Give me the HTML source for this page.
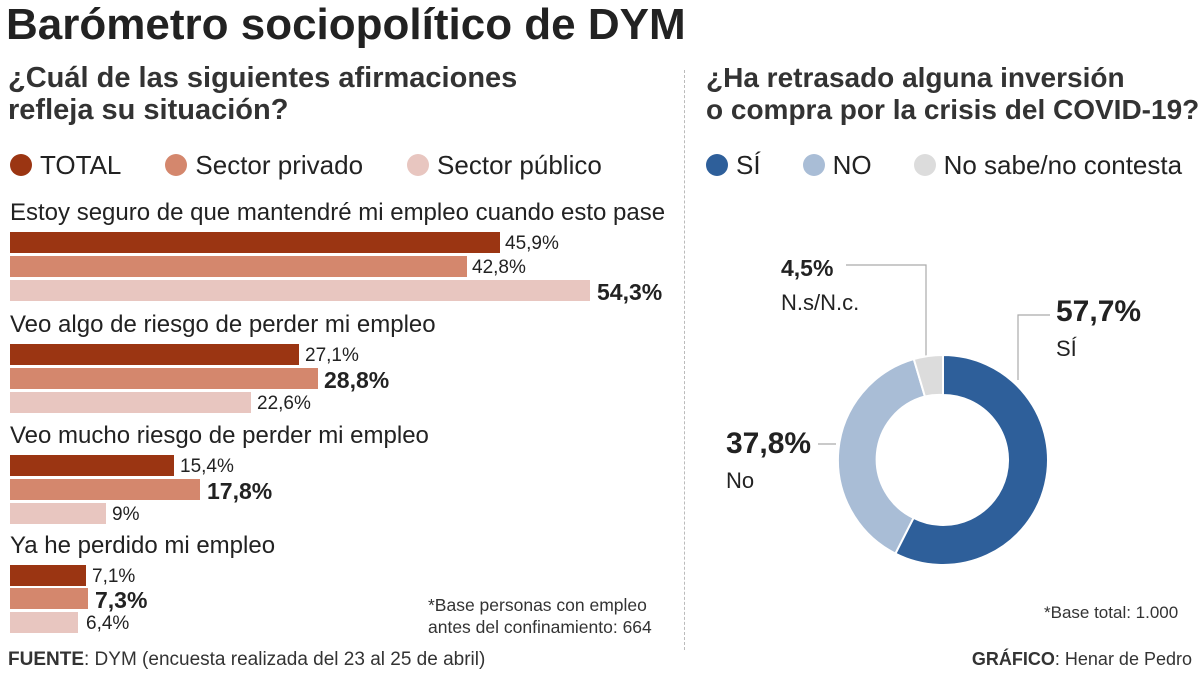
<!DOCTYPE html><html><head><meta charset="utf-8"><style>
body{margin:0;width:1200px;height:675px;background:#fff;position:relative;overflow:hidden;font-family:"Liberation Sans Narrow","Liberation Sans",sans-serif;color:#222}
.a{position:absolute;white-space:nowrap}
.b{position:absolute;height:21px;left:10px}
.c1{background:#9b3512}.c2{background:#d4876d}.c3{background:#e8c6c0}
.v{position:absolute;font-size:19px;white-space:nowrap}
.vb{font-weight:bold;font-size:23px}
.dot{display:inline-block;width:22px;height:22px;border-radius:50%;vertical-align:-2px;margin-right:8px}
</style></head><body>
<div class="a" style="left:6px;top:0px;font-size:44px;font-weight:bold;font-family:'Liberation Sans',sans-serif">Barómetro sociopolítico de DYM</div>
<div class="a" style="left:8px;top:62px;font-size:29px;line-height:32px;font-weight:bold;color:#333">¿Cuál de las siguientes afirmaciones<br>refleja su situación?</div>
<div class="a" style="left:706px;top:62px;font-size:28px;line-height:32px;font-weight:bold;color:#333">¿Ha retrasado alguna inversión<br>o compra por la crisis del COVID-19?</div>
<div class="a" style="left:10px;top:150px;font-size:26px"><span class="dot c1"></span>TOTAL<span style="display:inline-block;width:44px"></span><span class="dot c2"></span>Sector privado<span style="display:inline-block;width:44px"></span><span class="dot c3"></span>Sector público</div>
<div class="a" style="left:706px;top:150px;font-size:26px"><span class="dot" style="background:#2e5f9a"></span>SÍ<span style="display:inline-block;width:42px"></span><span class="dot" style="background:#a9bdd6"></span>NO<span style="display:inline-block;width:42px"></span><span class="dot" style="background:#dcdcdc"></span>No sabe/no contesta</div>
<div style="position:absolute;left:684px;top:70px;height:580px;border-left:1px dashed #bbb"></div>

<div class="a" style="left:10px;top:199px;font-size:24px">Estoy seguro de que mantendré mi empleo cuando esto pase</div>
<div class="b c1" style="top:232px;width:490px"></div><div class="v" style="left:505px;top:233px">45,9%</div>
<div class="b c2" style="top:256px;width:457px"></div><div class="v" style="left:472px;top:257px">42,8%</div>
<div class="b c3" style="top:280px;width:580px"></div><div class="v vb" style="left:597px;top:279px">54,3%</div>

<div class="a" style="left:10px;top:311px;font-size:24px">Veo algo de riesgo de perder mi empleo</div>
<div class="b c1" style="top:344px;width:289px"></div><div class="v" style="left:305px;top:345px">27,1%</div>
<div class="b c2" style="top:368px;width:308px"></div><div class="v vb" style="left:324px;top:367px">28,8%</div>
<div class="b c3" style="top:392px;width:241px"></div><div class="v" style="left:257px;top:393px">22,6%</div>

<div class="a" style="left:10px;top:422px;font-size:24px">Veo mucho riesgo de perder mi empleo</div>
<div class="b c1" style="top:455px;width:164px"></div><div class="v" style="left:180px;top:456px">15,4%</div>
<div class="b c2" style="top:479px;width:190px"></div><div class="v vb" style="left:207px;top:478px">17,8%</div>
<div class="b c3" style="top:503px;width:96px"></div><div class="v" style="left:112px;top:504px">9%</div>

<div class="a" style="left:10px;top:532px;font-size:24px">Ya he perdido mi empleo</div>
<div class="b c1" style="top:565px;width:76px"></div><div class="v" style="left:92px;top:566px">7,1%</div>
<div class="b c2" style="top:588px;width:78px"></div><div class="v vb" style="left:95px;top:587px">7,3%</div>
<div class="b c3" style="top:612px;width:68px"></div><div class="v" style="left:86px;top:613px">6,4%</div>

<div class="a" style="left:428px;top:594px;font-size:17.5px;line-height:22px;color:#333">*Base personas con empleo<br>antes del confinamiento: 664</div>
<div class="a" style="left:1044px;top:603px;font-size:17px;color:#333">*Base total: 1.000</div>
<div class="a" style="left:8px;top:649px;font-size:19px;color:#333"><b>FUENTE</b>: DYM (encuesta realizada del 23 al 25 de abril)</div>
<div class="a" style="right:8px;top:649px;font-size:18px;color:#333"><b>GRÁFICO</b>: Henar de Pedro</div>

<svg style="position:absolute;left:0;top:0" width="1200" height="675">
<g fill="none" stroke="#aaa" stroke-width="1.2">
<polyline points="846,265 926,265 926,356"/>
<polyline points="1050,315 1018,315 1018,380"/>
<polyline points="818,444 836,444"/>
</g>
<g stroke="#fff" stroke-width="2">
<path d="M943,355 A105,105 0 1 1 895.4,553.6 L913.5,517.9 A65,65 0 1 0 943,395 Z" fill="#2e5f9a"/>
<path d="M895.4,553.6 A105,105 0 0 1 913.8,359.1 L924.9,396.5 A65,65 0 0 0 913.5,517.9 Z" fill="#a9bdd6"/>
<path d="M913.8,359.1 A105,105 0 0 1 943,355 L943,395 A65,65 0 0 0 924.9,396.5 Z" fill="#dcdcdc"/>
</g>
</svg>
<div class="a" style="left:781px;top:255px;font-size:23px;font-weight:bold">4,5%</div>
<div class="a" style="left:781px;top:290px;font-size:22px">N.s/N.c.</div>
<div class="a" style="left:1056px;top:295px;font-size:30px;font-weight:bold">57,7%</div>
<div class="a" style="left:1056px;top:336px;font-size:22px">SÍ</div>
<div class="a" style="left:726px;top:427px;font-size:30px;font-weight:bold">37,8%</div>
<div class="a" style="left:726px;top:468px;font-size:22px">No</div>
</body></html>
